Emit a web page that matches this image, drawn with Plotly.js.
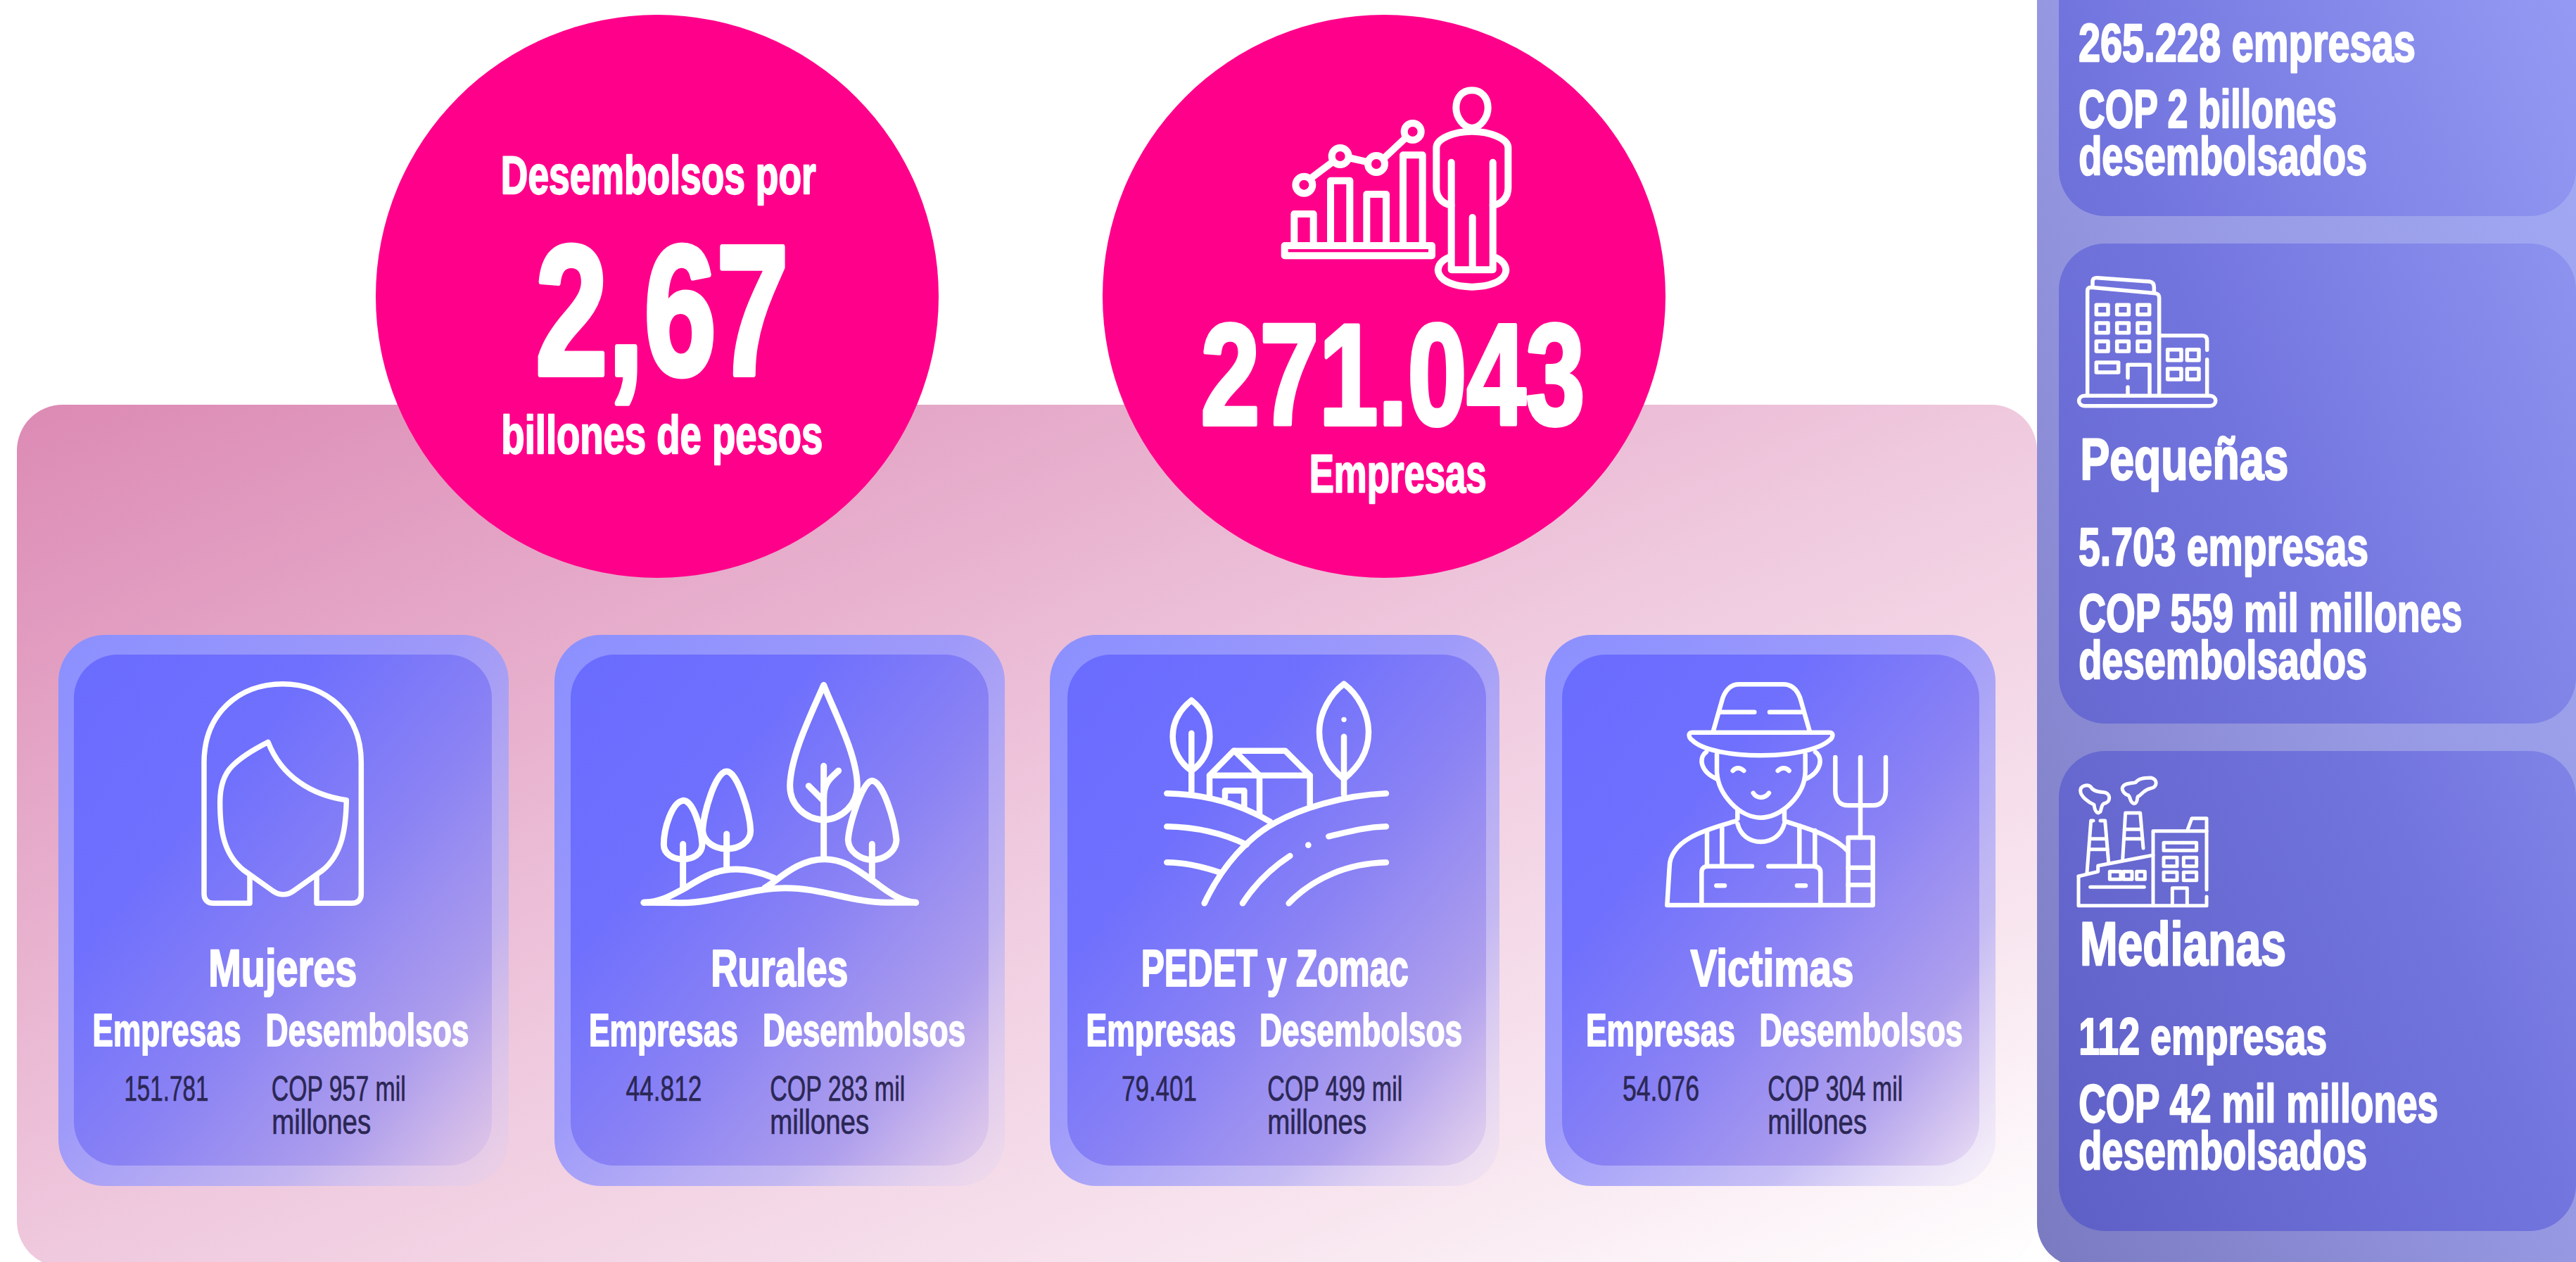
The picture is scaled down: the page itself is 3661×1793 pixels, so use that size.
<!DOCTYPE html>
<html>
<head>
<meta charset="utf-8">
<script src="https://cdn.plot.ly/plotly-3.0.1.min.js"></script>
<style>html,body{margin:0;padding:0;background:#fff}#chart{width:3661px;height:1793px}</style>
</head>
<body>
<div id="chart"></div>
<script>
// ---- Data ----
const totalDesembolsos = '2,67';
const totalEmpresas = '271.043';
const segmentos = ['Mujeres', 'Rurales', 'PEDET y Zomac', 'Victimas'];
const empresasSegmento = ['151.781', '44.812', '79.401', '54.076'];
const desembolsosSegmento = ['COP 957 mil', 'COP 283 mil', 'COP 499 mil', 'COP 304 mil'];
const tamanos = ['Pequeñas', 'Medianas'];
const empresasTamano = ['265.228 empresas', '5.703 empresas', '112 empresas'];
const desembolsosTamano = ['COP 2 billones', 'COP 559 mil millones', 'COP 42 mil millones'];

// ---- Helpers ----
const FONT = '"Liberation Sans Narrow","Liberation Sans",sans-serif';
const W = 3661, H = 1793;
const annotations = [], widths = [], weights = [], shapes = [], images = [];

function text(str, x0, x1, baseline, size, opts) {
  opts = opts || {};
  const color = opts.color || '#ffffff';
  annotations.push({
    text: opts.bold === false ? str : '<b>' + str + '</b>',
    x: (x0 + x1) / 2, y: baseline - 0.3465 * size, xref: 'x', yref: 'y',
    xanchor: 'center', yanchor: 'middle', showarrow: false, borderpad: 0, borderwidth: 0,
    font: { family: FONT, size: size, color: color }
  });
  widths.push(x1 - x0);
  weights.push({ color: color, width: opts.bold === false ? 0.7 : size * 0.03 });
}
function svgImage(x, y, w, h, inner) {
  const svg = '<svg xmlns="http://www.w3.org/2000/svg" width="' + w + '" height="' + h +
    '" viewBox="0 0 ' + w + ' ' + h + '">' + inner + '</svg>';
  images.push({
    source: 'data:image/svg+xml;base64,' + btoa(svg), xref: 'x', yref: 'y', x: x, y: y,
    sizex: w, sizey: h, sizing: 'stretch', xanchor: 'left', yanchor: 'top', layer: 'below'
  });
}
function grad(id, stops, x1, y1, x2, y2, user) {
  return '<linearGradient id="' + id + '" x1="' + x1 + '" y1="' + y1 + '" x2="' + x2 + '" y2="' + y2 + '"' +
    (user ? ' gradientUnits="userSpaceOnUse"' : '') + '>' +
    stops.map(s => '<stop offset="' + s[0] + '" stop-color="' + s[1] + '" stop-opacity="' + s[2] + '"/>').join('') +
    '</linearGradient>';
}
function panel(x0, y0, x1, y1, r, stops) {
  const w = x1 - x0, h = y1 - y0;
  svgImage(x0, y0, w, h, '<defs>' + grad('g', stops, 0, 0, 1, 1) + '</defs><rect width="' + w + '" height="' + h +
    '" rx="' + r + '" ry="' + r + '" fill="url(#g)"/>');
}
// Icon outlines are drawn in a local 3x space and mapped onto the page.
function icon(ox, oy, width, paths, circles, dots, rects) {
  const k = 1 / 3;
  const line = { color: '#ffffff', width: width };
  (paths || []).forEach(d => shapes.push({
    type: 'path', xref: 'x', yref: 'y', line: line,
    path: d.replace(/(-?\d+\.?\d*)\s+(-?\d+\.?\d*)/g, (m, a, b) => (ox + a * k).toFixed(2) + ',' + (oy + b * k).toFixed(2))
  }));
  (circles || []).forEach(c => shapes.push({
    type: 'circle', xref: 'x', yref: 'y', line: line,
    x0: ox + (c[0] - c[2]) * k, x1: ox + (c[0] + c[2]) * k, y0: oy + (c[1] - c[2]) * k, y1: oy + (c[1] + c[2]) * k
  }));
  (dots || []).forEach(c => shapes.push({
    type: 'circle', xref: 'x', yref: 'y', line: { width: 0 }, fillcolor: '#ffffff',
    x0: ox + (c[0] - c[2]) * k, x1: ox + (c[0] + c[2]) * k, y0: oy + (c[1] - c[2]) * k, y1: oy + (c[1] + c[2]) * k
  }));
  (rects || []).forEach(c => shapes.push({
    type: 'rect', xref: 'x', yref: 'y', line: line,
    x0: ox + c[0] * k, y0: oy + c[1] * k, x1: ox + c[2] * k, y1: oy + c[3] * k
  }));
}

// ---- Background panels ----
panel(24, 575, 2895, 1800, 65, [[0, '#dc8ab4', 1], [0.5, '#efc9de', 1], [0.8, '#f8e6ef', 1], [1, '#ffffff', 1]]);

const cardOuter = [[83, 723], [788, 1428], [1492, 2131], [2196, 2836]];
const cardInner = [[105, 699], [811, 1405], [1517, 2112], [2220, 2813]];
const outerStops = [[0, '#8b90ff', 1], [0.45, '#9a98fb', 0.95], [0.75, '#b4aef5', 0.75], [1, '#d8d0f8', 0.15]];
const innerStops = [[0, '#6a6cff', 1], [0.3, '#6f70fd', 1], [0.55, '#8880f4', 0.95], [0.8, '#a898ec', 0.82], [1, '#c8b0e8', 0.25]];
cardOuter.forEach(c => panel(c[0], 902, c[1], 1685, 66, outerStops));
cardInner.forEach(c => panel(c[0], 930, c[1], 1656, 62, innerStops));

// Right column: outer band and three cards share one diagonal gradient,
// running from the top right to the bottom left of the band.
(function () {
  const x = 2895, top = -70, w = W - x + 70, h = 1800 - top;
  const bw = W - x, bh = h;
  const a = 1 / (2 * bw), b = 1 / (2 * bh), n = a * a + b * b;
  const gx2 = bw - a / n, gy2 = b / n;
  const cards = [[-200, 307], [346, 1028], [1067, 1749]];
  const inner = '<defs>' +
    grad('o', [[0, '#a3abf6', 1], [0.5, '#9698e2', 1], [1, '#7a7ac1', 1]], bw, 0, gx2, gy2, true) +
    grad('i', [[0, '#959cf4', 1], [0.5, '#7274de', 1], [1, '#5d5ec4', 1]], bw, 0, gx2, gy2, true) +
    '</defs><rect width="' + w + '" height="' + h + '" rx="62" ry="62" fill="url(#o)"/>';
  svgImage(x, top, w, h, inner + cards.map(c =>
    '<rect x="31" y="' + (c[0] - top) + '" width="' + (W - x - 31) + '" height="' + (c[1] - c[0]) +
    '" rx="66" ry="66" fill="url(#i)"/>').join(''));
})();

// ---- Pink circles ----
[934, 1967].forEach(cx => shapes.push({
  type: 'circle', xref: 'x', yref: 'y', x0: cx - 400, x1: cx + 400, y0: 21, y1: 821,
  fillcolor: '#ff008a', line: { width: 0 }
}));

// ---- Icons ----
// woman
icon(270, 960, 7.5, [
  'M 255 855 L 255 970 L 100 970 C 75 970 60 955 60 930 L 60 370 C 60 160 210 35 395 35 C 580 35 730 160 730 370 L 730 930 C 730 955 715 970 690 970 L 540 970 L 540 855',
  'M 333 283 C 270 315 215 350 180 385 C 140 425 128 480 128 540 C 128 650 140 760 230 830 L 350 915 C 380 938 415 938 445 915 L 565 830 C 650 760 665 650 667 530 C 520 510 390 430 333 283 Z'
]);
// trees
icon(900, 960, 9, [
  'M 812 40 C 760 160 670 340 668 470 C 668 550 730 610 812 615 C 890 610 955 550 955 470 C 955 340 860 160 812 40 Z',
  'M 812 385 L 812 775', 'M 875 405 C 850 430 812 450 812 520', 'M 748 470 L 808 530',
  'M 212 532 C 165 540 130 650 130 720 C 130 760 170 782 212 782 C 255 782 292 760 294 720 C 290 650 255 530 212 532 Z',
  'M 212 718 L 212 900',
  'M 398 408 C 350 408 298 590 296 660 C 298 710 350 738 398 738 C 450 738 500 710 500 660 C 498 590 445 408 398 408 Z',
  'M 398 675 L 398 815',
  'M 1018 448 C 975 450 920 640 916 700 C 918 750 970 785 1018 785 C 1070 785 1120 750 1122 700 C 1115 620 1065 450 1018 448 Z',
  'M 1018 718 L 1018 865',
  'M 45 967 C 110 965 150 945 230 900 C 310 850 360 825 440 825 C 500 825 560 845 600 862',
  'M 45 967 L 210 968 C 350 968 500 905 650 905 C 800 905 930 965 1080 967 L 1205 967',
  'M 560 905 C 620 870 700 782 815 782 C 900 782 950 825 1030 880 C 1080 915 1130 960 1205 967'
]);
// farm
icon(1640, 960, 8.5, [
  'M 160 105 C 110 145 80 195 80 260 C 80 320 115 375 160 405 C 205 375 238 320 238 260 C 238 195 210 145 160 105 Z',
  'M 160 245 L 160 495',
  'M 810 35 C 750 80 705 160 705 240 C 705 330 750 390 810 440 C 870 390 915 330 915 240 C 915 160 870 80 810 35 Z',
  'M 810 260 L 810 505',
  'M 237 510 L 237 425 L 340 320 L 560 320 L 665 425 L 665 550', 'M 237 425 L 665 425',
  'M 343 320 L 450 425 L 450 590', 'M 303 520 L 303 490 L 385 490 L 385 560',
  'M 55 502 C 230 505 380 555 495 622',
  'M 990 502 C 800 510 620 570 520 625 C 400 690 290 810 215 970',
  'M 55 643 C 180 645 290 670 395 720', 'M 55 796 C 130 796 210 815 285 840',
  'M 990 643 C 900 645 830 665 745 685', 'M 990 796 C 830 800 680 860 575 970',
  'M 580 768 C 500 820 430 890 378 970'
], [], [[810, 187, 11], [658, 722, 13]]);
// farmer
icon(2350, 960, 6.5, [
  'M 255 235 L 295 95 C 310 55 335 37 365 37 L 555 37 C 585 37 610 55 625 95 L 665 235',
  'M 285 155 L 430 155', 'M 495 155 L 630 155',
  'M 165 242 L 750 242 C 770 242 765 265 750 275 C 700 320 570 340 457 340 C 340 340 210 320 165 275 C 150 265 145 242 165 242 Z',
  'M 270 335 L 270 410 C 275 510 370 605 457 605 C 545 605 645 510 647 410 L 647 335',
  'M 225 325 C 190 350 200 410 270 440', 'M 690 325 C 725 350 715 410 650 440',
  'M 338 405 C 350 390 370 390 385 405', 'M 530 405 C 545 390 565 390 578 405', 'M 425 500 C 440 525 475 525 492 500',
  'M 358 570 L 358 610', 'M 558 570 L 558 615',
  'M 358 630 C 370 680 410 708 457 708 C 505 708 545 680 558 630',
  'M 350 620 C 250 650 70 690 68 815 L 58 978 L 935 978 L 935 690 L 830 690 L 830 978',
  'M 560 620 C 650 650 770 680 830 750',
  'M 228 660 L 228 810', 'M 292 640 L 292 810', 'M 622 640 L 622 810', 'M 688 660 L 688 810',
  'M 205 978 L 205 840 C 205 820 215 812 235 812 L 420 812', 'M 490 812 L 680 812 C 700 812 712 820 712 840 L 712 978',
  'M 268 895 L 303 895', 'M 612 895 L 648 895',
  'M 775 348 L 775 490 C 775 530 795 553 830 553 L 935 553 C 970 553 990 530 990 490 L 990 348',
  'M 882 348 L 882 690', 'M 830 818 L 935 818', 'M 830 892 L 935 892'
]);
// chart and person
icon(1800, 110, 10, [
  'M 876 55 C 830 55 808 90 808 130 C 808 170 840 215 876 215 C 912 215 944 170 944 130 C 944 90 920 55 876 55 Z',
  'M 788 545 C 750 540 724 510 724 470 L 724 300 C 724 260 800 230 876 230 C 950 230 1030 260 1030 300 L 1030 470 C 1030 510 1005 540 965 545',
  'M 788 362 L 788 820 L 965 820 L 965 362', 'M 878 597 L 878 820',
  'M 775 768 C 700 800 715 890 876 893 C 1040 890 1050 800 978 768',
  'M 118 715 L 118 582 L 200 582 L 200 715', 'M 273 715 L 273 440 L 355 440 L 355 715',
  'M 427 715 L 427 498 L 510 498 L 510 715', 'M 582 715 L 582 331 L 665 331 L 665 715',
  'M 77 717 L 705 717 L 705 760 L 77 760 Z',
  'M 195 425 L 275 365', 'M 362 345 L 420 358', 'M 505 340 L 585 265'
], [[160, 458, 36], [314, 336, 36], [468, 369, 36], [623, 231, 36]]);
// building
icon(2940, 380, 5.5, [
  'M 80 540 L 80 100 C 80 90 85 85 95 85 L 370 110 C 380 112 386 118 386 130 L 386 540',
  'M 102 85 L 102 60 C 102 48 110 43 122 44 L 345 60 C 358 62 364 70 364 85 L 364 105',
  'M 252 470 L 252 415 L 345 415 L 345 540', 'M 252 510 L 252 540',
  'M 386 290 L 570 290 C 585 290 590 300 590 312 L 590 352', 'M 590 392 L 590 540',
  'M 70 547 L 600 547 C 635 547 635 590 600 590 L 70 590 C 35 590 35 547 70 547 Z'
], [], [], [
  [118, 160, 168, 200], [206, 160, 256, 200], [294, 160, 344, 200],
  [118, 237, 168, 278], [206, 237, 256, 278], [294, 237, 344, 278],
  [118, 315, 168, 357], [206, 315, 256, 357], [294, 315, 344, 357],
  [118, 405, 212, 447], [422, 350, 480, 395], [505, 350, 555, 395], [422, 432, 480, 477], [505, 432, 555, 477]
]);
// factory
icon(2940, 1090, 5, [
  'M 42 465 L 42 590 L 588 590 L 588 552', 'M 588 522 L 588 218 L 525 218 L 505 272 L 360 272 L 360 590',
  'M 505 272 L 588 272', 'M 360 375 L 125 420 L 125 445 L 42 465',
  'M 78 450 L 95 228 L 105 228', 'M 135 228 L 155 228 L 170 405', 'M 95 305 L 160 305', 'M 88 350 L 165 350',
  'M 230 395 L 242 195 L 305 195 L 318 345', 'M 238 265 L 310 265', 'M 235 305 L 314 305',
  'M 92 511 L 322 511', 'M 442 590 L 442 515 L 505 515 L 505 590',
  'M 125 195 C 110 190 110 170 108 160 C 85 150 50 125 50 100 C 50 80 80 70 95 85 C 105 105 135 105 155 108 C 180 115 180 150 150 155 C 140 160 140 175 135 190 Z',
  'M 278 155 C 260 150 265 130 255 120 C 235 115 225 95 230 85 C 240 65 270 70 285 65 C 300 45 330 45 350 45 C 380 50 380 85 350 90 C 320 95 310 120 295 125 C 290 135 295 155 278 155 Z'
], [], [], [
  [175, 445, 222, 478], [233, 445, 270, 478], [290, 445, 325, 478],
  [405, 322, 545, 355], [405, 385, 462, 422], [490, 385, 545, 422], [405, 448, 462, 482], [490, 448, 545, 482]
]);

// ---- Text ----
text('Desembolsos por', 712, 1160, 275, 76);
text(totalDesembolsos, 761, 1121, 532, 263);
text('billones de pesos', 712, 1169, 644, 76);
text(totalEmpresas, 1706, 2252, 603, 205);
text('Empresas', 1860, 2112, 699, 76);

const tituloX = [[296, 507], [1010, 1205], [1622, 2002], [2402, 2634]];
const empX = [[131, 342], [837, 1049], [1543, 1756], [2254, 2466]];
const desX = [[377, 666], [1084, 1372], [1790, 2078], [2500, 2789]];
const valX = [[176, 296], [889, 997], [1594, 1701], [2306, 2415]];
const copX = [[386, 577], [1094, 1286], [1801, 1993], [2512, 2704]];
const milX = [[386, 527], [1094, 1235], [1801, 1942], [2512, 2653]];
const DARK = '#2b2755';
segmentos.forEach((s, i) => {
  text(s, tituloX[i][0], tituloX[i][1], 1401, 74);
  text('Empresas', empX[i][0], empX[i][1], 1486, 64);
  text('Desembolsos', desX[i][0], desX[i][1], 1486, 64);
  text(empresasSegmento[i], valX[i][0], valX[i][1], 1564, 50, { bold: false, color: DARK });
  text(desembolsosSegmento[i], copX[i][0], copX[i][1], 1564, 50, { bold: false, color: DARK });
  text('millones', milX[i][0], milX[i][1], 1611, 50, { bold: false, color: DARK });
});

const colX = 2954;
text(empresasTamano[0], colX, 3433, 87, 76);
text(desembolsosTamano[0], colX, 3321, 181, 76);
text('desembolsados', colX, 3364, 248, 76);
text(tamanos[0], 2956, 3252, 681, 84);
text(empresasTamano[1], colX, 3366, 803, 76);
text(desembolsosTamano[1], colX, 3499, 897, 76);
text('desembolsados', colX, 3364, 964, 76);
text(tamanos[1], 2956, 3249, 1371, 88);
text(empresasTamano[2], colX, 3307, 1498, 74);
text(desembolsosTamano[2], colX, 3465, 1594, 76);
text('desembolsados', colX, 3364, 1661, 76);

// ---- Draw ----
const hidden = { visible: false, fixedrange: true, showgrid: false, zeroline: false };
Plotly.newPlot('chart', [], {
  width: W, height: H, autosize: false,
  margin: { l: 0, r: 0, t: 0, b: 0, pad: 0 },
  paper_bgcolor: '#ffffff', plot_bgcolor: 'rgba(0,0,0,0)', showlegend: false,
  xaxis: Object.assign({ range: [0, W] }, hidden),
  yaxis: Object.assign({ range: [H, 0] }, hidden),
  images: images, shapes: shapes, annotations: annotations
}, { staticPlot: true, displayModeBar: false, responsive: false }).then(gd => {
  gd.querySelectorAll('.shapelayer path').forEach(p => {
    p.style.strokeLinecap = 'round'; p.style.strokeLinejoin = 'round';
  });
  gd.querySelectorAll('text.annotation-text').forEach((t, i) => {
    t.setAttribute('textLength', widths[i]);
    t.setAttribute('lengthAdjust', 'spacingAndGlyphs');
    t.style.stroke = weights[i].color;
    t.style.strokeWidth = weights[i].width + 'px';
    t.style.strokeLinejoin = 'round';
  });
});
</script>
</body>
</html>
